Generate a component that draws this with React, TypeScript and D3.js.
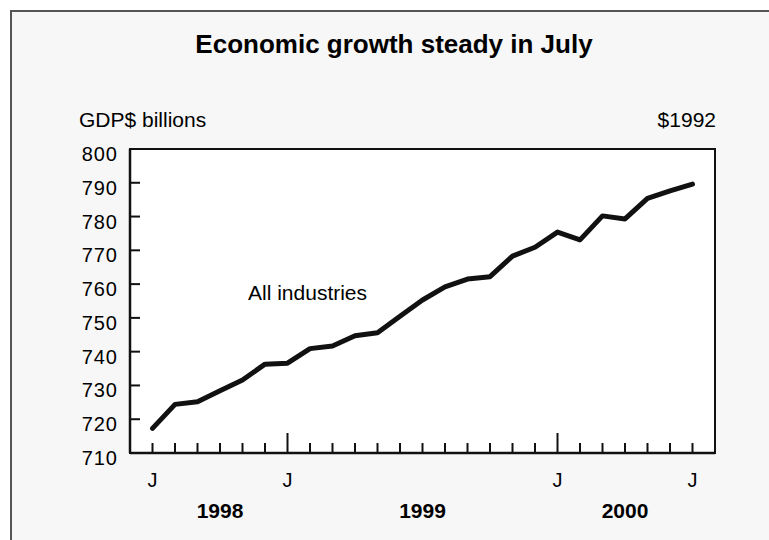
import React from 'react';
import * as d3 from 'd3';

// monthly GDP, all industries, $1992 billions (Jul 1998 .. Jul 2000)
const months = [
  'Jul 98', 'Aug 98', 'Sep 98', 'Oct 98', 'Nov 98', 'Dec 98',
  'Jan 99', 'Feb 99', 'Mar 99', 'Apr 99', 'May 99', 'Jun 99',
  'Jul 99', 'Aug 99', 'Sep 99', 'Oct 99', 'Nov 99', 'Dec 99',
  'Jan 00', 'Feb 00', 'Mar 00', 'Apr 00', 'May 00', 'Jun 00', 'Jul 00',
];
const gdp = [
  717.3, 724.4, 725.2, 728.4, 731.6, 736.3,
  736.6, 740.9, 741.7, 744.7, 745.6, 750.5,
  755.3, 759.2, 761.5, 762.2, 768.3, 770.9,
  775.4, 773.1, 780.2, 779.3, 785.4, 787.6, 789.6,
];
const yTicks = [710, 720, 730, 740, 750, 760, 770, 780, 790, 800];
const monthLetters = [
  { month: 'Jul 98', label: 'J' },
  { month: 'Jan 99', label: 'J' },
  { month: 'Jan 00', label: 'J' },
  { month: 'Jul 00', label: 'J' },
];
const majorTicks = ['Jan 99', 'Jan 00'];
const years = [
  { label: '1998', from: 'Jul 98', to: 'Jan 99' },
  { label: '1999', from: 'Jan 99', to: 'Jan 00' },
  { label: '2000', from: 'Jan 00', to: 'Jul 00' },
];

const W = 769;
const H = 540;
const plot = { left: 130, right: 715, top: 149, bottom: 453 };
const font = 'Arial, "Liberation Sans", Helvetica, sans-serif';

export default function App() {
  const x = d3.scaleLinear().domain([-1, months.length]).range([plot.left, plot.right]);
  const y = d3.scaleLinear().domain([710, 800]).range([plot.bottom, plot.top]);
  const xm = (m: string) => x(months.indexOf(m));

  const line = d3.line<number>()
    .x((_, i) => x(i))
    .y(d => y(d));

  return (
    <div style={{ position: 'absolute', left: 0, top: 0, width: W, height: H, background: '#fff' }}>
      <svg width={W} height={H} style={{ display: 'block', fontFamily: font }}>
        <rect x={11} y={11} width={W + 10} height={H + 10} fill="#f7f7f7" stroke="#555" strokeWidth={2} />

        <text x={394} y={53} textAnchor="middle" fontSize={26} fontWeight="bold" fill="#000">
          Economic growth steady in July
        </text>
        <text x={79} y={127} fontSize={21} fill="#000">GDP$ billions</text>
        <text x={716} y={127} textAnchor="end" fontSize={21} fill="#000">$1992</text>

        <rect x={plot.left} y={plot.top} width={plot.right - plot.left} height={plot.bottom - plot.top}
          fill="#fff" stroke="#111" strokeWidth={2} />
        <line x1={plot.left} x2={plot.right} y1={plot.bottom} y2={plot.bottom} stroke="#111" strokeWidth={2.5} />
        <line x1={plot.left} x2={plot.left} y1={plot.top} y2={plot.bottom} stroke="#111" strokeWidth={2.5} />

        {yTicks.map(t => (
          <g key={t}>
            {t > 710 && t < 800 && (
              <line x1={plot.left} x2={plot.left + 10} y1={y(t)} y2={y(t)} stroke="#111" strokeWidth={2} />
            )}
            <text x={118} y={y(t) + 12} textAnchor="end" fontSize={20} letterSpacing={1} fill="#000">{t}</text>
          </g>
        ))}

        {months.map(m => {
          const major = majorTicks.includes(m);
          return (
            <line key={m} x1={xm(m)} x2={xm(m)} y1={plot.bottom} y2={plot.bottom - (major ? 20 : 10)}
              stroke="#111" strokeWidth={2} />
          );
        })}

        {monthLetters.map(d => (
          <text key={d.month} x={xm(d.month)} y={487} textAnchor="middle" fontSize={20} fill="#000">{d.label}</text>
        ))}
        {years.map(d => (
          <text key={d.label} x={(xm(d.from) + xm(d.to)) / 2} y={518} textAnchor="middle"
            fontSize={21} fontWeight="bold" fill="#000">{d.label}</text>
        ))}

        <path d={line(gdp) || ''} fill="none" stroke="#111" strokeWidth={5}
          strokeLinejoin="round" strokeLinecap="round" />

        <text x={248} y={300} fontSize={21} fill="#000">All industries</text>
      </svg>
    </div>
  );
}
